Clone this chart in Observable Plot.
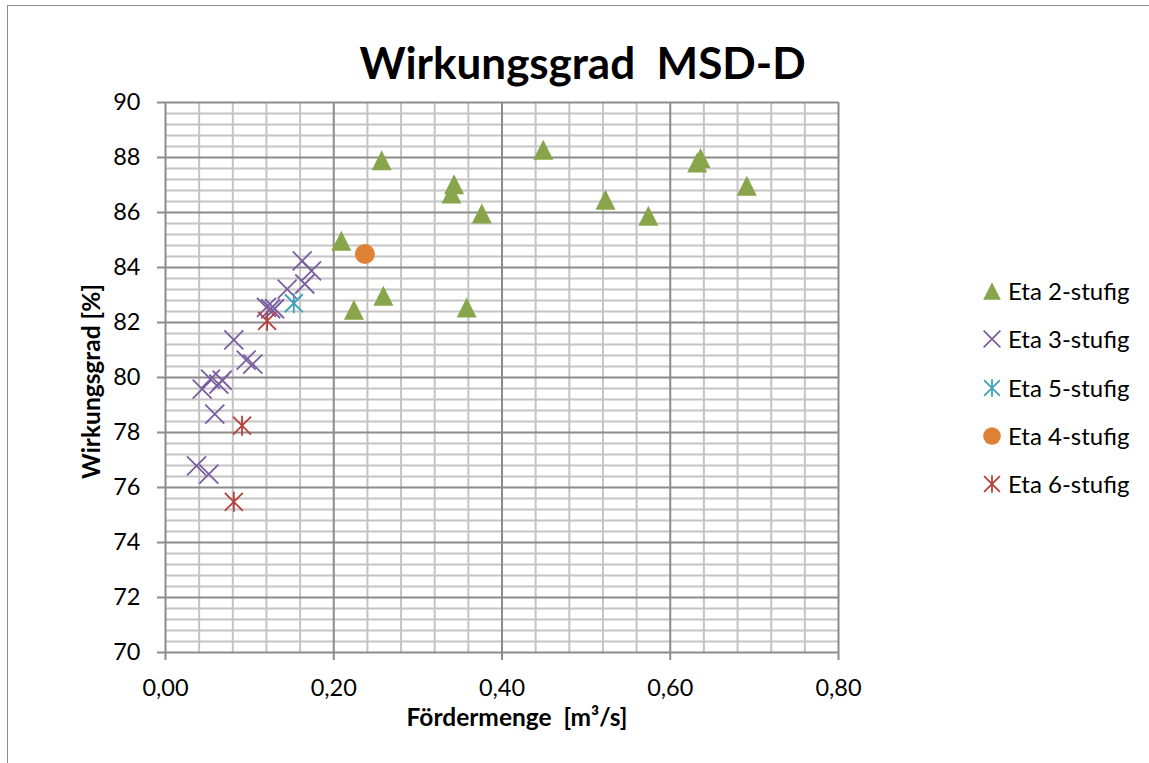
<!DOCTYPE html>
<html><head><meta charset="utf-8">
<script src="https://cdn.jsdelivr.net/npm/d3@7"></script>
<script src="https://cdn.jsdelivr.net/npm/@observablehq/plot@0.6"></script>
<style>
html,body{margin:0;padding:0;background:#fff;overflow:hidden;}
#wrap{position:relative;width:1149px;height:763px;font-family:Lato,sans-serif;color:#000;}
#frame{position:absolute;left:7px;top:5px;width:1300px;height:900px;border:1.5px solid #8a8a8a;box-sizing:border-box;}
#title{position:absolute;left:0;width:1165px;top:40px;line-height:44px;text-align:center;font-weight:bold;font-size:44px;white-space:pre;}
#chart{position:absolute;left:0;top:0;}
#chart svg text{white-space:pre;}
.lrow{position:absolute;left:980px;height:30px;display:flex;align-items:center;font-size:24px;line-height:30px;white-space:pre;}
.lrow svg{width:24px;height:24px;margin-right:4px;overflow:visible;}
</style>
</head><body>
<div id="wrap">
  <div id="frame"></div>
  <div id="chart"></div>
  <div id="title"></div>
  <div id="legend"></div>
</div>
<script>
// ---- data ----
const titleText = "Wirkungsgrad  MSD-D";
const xLabel = "Fördermenge  [m³/s]";
const yLabel = "Wirkungsgrad [%]";
const xTicks = [0, 0.2, 0.4, 0.6, 0.8];
const yTicks = [70, 72, 74, 76, 78, 80, 82, 84, 86, 88, 90];

const seriesNames = ["Eta 2-stufig", "Eta 3-stufig", "Eta 5-stufig", "Eta 4-stufig", "Eta 6-stufig"];
const seriesColors = ["#87a54a", "#7b5ea0", "#3fa2bb", "#df8236", "#b5403c"];

const eta2Q   = [0.257, 0.449, 0.636, 0.632, 0.691, 0.523, 0.574, 0.343, 0.340, 0.376, 0.209, 0.259, 0.224, 0.358];
const eta2Eta = [87.90, 88.28, 87.98, 87.82, 86.97, 86.46, 85.88, 87.03, 86.69, 85.96, 84.97, 82.97, 82.46, 82.55];

const eta3Q   = [0.1625, 0.1736, 0.1656, 0.1446, 0.120, 0.125, 0.1296, 0.0812, 0.0959, 0.1038, 0.0535, 0.0674, 0.0634, 0.0436, 0.0586, 0.0369, 0.0515];
const eta3Eta = [84.24, 83.88, 83.40, 83.21, 82.55, 82.50, 82.50, 81.37, 80.63, 80.49, 79.94, 79.90, 79.76, 79.58, 78.67, 76.79, 76.49];

const eta5Q   = [0.1525];
const eta5Eta = [82.70];

const eta4Q   = [0.237];
const eta4Eta = [84.49];

const eta6Q   = [0.1208, 0.091, 0.0812];
const eta6Eta = [82.06, 78.25, 75.48];

// ---- symbols ----
const triUp = {draw(c){c.moveTo(0,-10);c.lineTo(10,10);c.lineTo(-10,10);c.closePath();}};
const cross = {draw(c){c.moveTo(-9.5,-9.5);c.lineTo(9.5,9.5);c.moveTo(-9.5,9.5);c.lineTo(9.5,-9.5);}};
const star  = {draw(c){c.moveTo(-9,-9);c.lineTo(9,9);c.moveTo(-9,9);c.lineTo(9,-9);c.moveTo(0,-10);c.lineTo(0,10);}};
const circ  = {draw(c){c.moveTo(10,0);c.arc(0,0,10,0,2*Math.PI);}};

const toRows = (qs, es) => qs.map((q, i) => ({q, eta: es[i]}));
const s2 = toRows(eta2Q, eta2Eta), s3 = toRows(eta3Q, eta3Eta), s5 = toRows(eta5Q, eta5Eta),
      s4 = toRows(eta4Q, eta4Eta), s6 = toRows(eta6Q, eta6Eta);

const xMinor = d3.range(0, 0.8001, 0.04).filter(v => Math.abs(v / 0.2 - Math.round(v / 0.2)) > 1e-6);
const yMinor = d3.range(70, 90.001, 0.4).filter(v => Math.abs(v / 2 - Math.round(v / 2)) > 1e-6);

const fmt = d => d.toFixed(2).replace(".", ",");
const minorC = "#c4c4c4", majorC = "#8c8c8c";

const chart = Plot.plot({
  width: 1149, height: 763,
  marginLeft: 165, marginRight: 311, marginTop: 102, marginBottom: 111,
  x: {domain: [0, 0.8]},
  y: {domain: [70, 90]},
  style: {fontFamily: "Lato, sans-serif", fontSize: "23.5px", color: "black", background: "transparent", overflow: "visible"},
  marks: [
    Plot.ruleX(xMinor, {stroke: minorC, strokeWidth: 2}),
    Plot.ruleY(yMinor, {stroke: minorC, strokeWidth: 2}),
    Plot.ruleX(xTicks, {stroke: majorC, strokeWidth: 2}),
    Plot.ruleY(yTicks, {stroke: majorC, strokeWidth: 2}),
    Plot.axisX({ticks: xTicks, tickSize: 8, tickPadding: 19, tickFormat: fmt, stroke: majorC, strokeWidth: 2, fill: "black", label: null}),
    Plot.axisY({ticks: yTicks, tickSize: 8, tickPadding: 17, stroke: majorC, strokeWidth: 2, fill: "black", label: null}),
    Plot.dot(s2, {x: "q", y: "eta", symbol: triUp, fill: seriesColors[0], stroke: "none"}),
    Plot.dot(s3, {x: "q", y: "eta", symbol: cross, fill: "none", stroke: seriesColors[1], strokeWidth: 1.8}),
    Plot.dot(s5, {x: "q", y: "eta", symbol: star, fill: "none", stroke: seriesColors[2], strokeWidth: 1.8}),
    Plot.dot(s4, {x: "q", y: "eta", symbol: circ, fill: seriesColors[3], stroke: "none"}),
    Plot.dot(s6, {x: "q", y: "eta", symbol: star, fill: "none", stroke: seriesColors[4], strokeWidth: 1.8}),
    Plot.text([xLabel], {frameAnchor: "bottom", dy: 66, dx: 15, fontWeight: "bold", fontSize: 24.5, textAnchor: "middle", lineAnchor: "middle", fill: "black"}),
    Plot.text([yLabel], {frameAnchor: "left", dx: -73, dy: 4, rotate: -90, fontWeight: "bold", fontSize: 24.5, textAnchor: "middle", lineAnchor: "middle", fill: "black"})
  ]
});
document.getElementById("chart").appendChild(chart);
document.getElementById("title").textContent = titleText;

// ---- legend ----
const legendSymbols = [triUp, cross, star, circ, star];
const legendFilled = [true, false, false, true, false];
const legendTops = [291, 339.3, 387.6, 436, 484.3];
const leg = document.getElementById("legend");
seriesNames.forEach((name, i) => {
  const row = document.createElement("div");
  row.className = "lrow";
  row.style.top = (legendTops[i] - 15) + "px";
  const path = d3.path();
  legendSymbols[i].draw(path);
  const col = seriesColors[i];
  row.innerHTML = `<svg viewBox="-12 -12 24 24"><path transform="scale(0.88)" d="${path.toString()}" fill="${legendFilled[i] ? col : "none"}" stroke="${legendFilled[i] ? "none" : col}" stroke-width="2"/></svg>`;
  const span = document.createElement("span");
  span.textContent = name;
  row.appendChild(span);
  leg.appendChild(row);
});
</script>
</body></html>
